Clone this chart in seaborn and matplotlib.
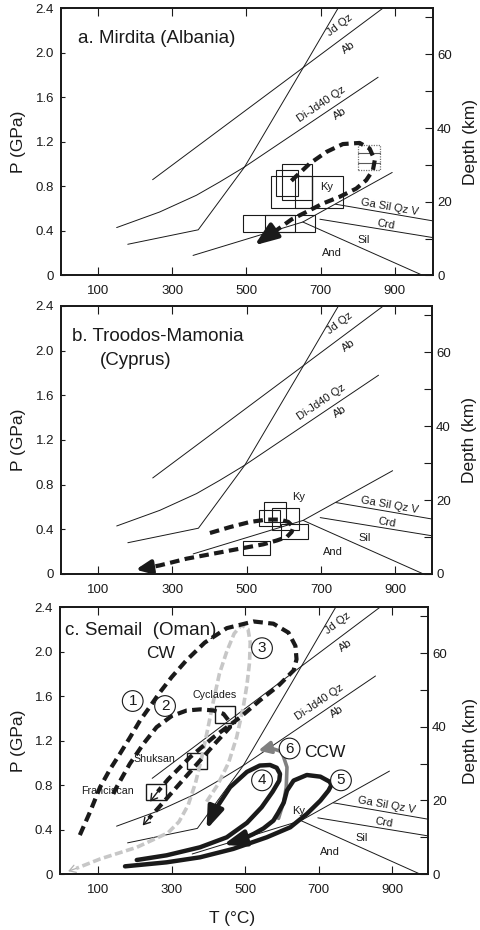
import matplotlib
matplotlib.use("Agg")
import matplotlib.pyplot as plt
import seaborn as sns
from matplotlib.patches import Rectangle

sns.set_theme(style="ticks")
plt.rcParams['font.family'] = ['Liberation Sans', 'DejaVu Sans']
plt.rcParams.update({'text.color': 'k', 'axes.labelcolor': 'k',
                     'xtick.color': 'k', 'ytick.color': 'k', 'axes.edgecolor': 'k'})

# ---- phase boundaries, T (C) / P (GPa), same in all three panels
jd_T = [247, 868]
jd_P = [0.86, 2.40]
di_T = [150, 266, 365, 428, 495, 855]
di_P = [0.43, 0.57, 0.72, 0.84, 0.975, 1.78]
steep_T = [180, 370, 495, 652, 747]
steep_P = [0.28, 0.41, 0.975, 1.86, 2.40]
kyand_T = [356, 652, 893]
kyand_P = [0.18, 0.48, 0.925]
silans_T = [652, 976]
silans_P = [0.48, 0.0]
ga_T = [740, 1003]
ga_P = [0.64, 0.49]
crd_T = [698, 1003]
crd_P = [0.505, 0.34]

# ---- a. Mirdita
a_boxes = [  # Tmin, Tmax, Pmin, Pmax
    (491, 630, 0.391, 0.541), (551, 686, 0.391, 0.541),
    (567, 678, 0.61, 0.894), (581, 639, 0.712, 0.946),
    (597, 678, 0.676, 0.997), (630, 678, 0.61, 0.894),
    (678, 759, 0.61, 0.894)]
a_gray_box = (801, 859, 0.946, 1.17)
a_gray_rows = [1.10, 1.006]
a_path_T = [621, 671, 716, 760, 805, 832, 846, 841, 823, 796, 751, 706, 662, 621, 581, 563]
a_path_P = [0.85, 1.006, 1.11, 1.18, 1.19, 1.14, 1.035, 0.946, 0.856, 0.78, 0.706, 0.646, 0.571, 0.502, 0.406, 0.37]
a_tip = (522, 0.271)

# ---- b. Troodos-Mamonia
b_boxes = [(547, 606, 0.466, 0.645), (534, 590, 0.427, 0.577),
           (567, 641, 0.391, 0.592), (592, 666, 0.317, 0.451),
           (489, 563, 0.167, 0.293)]
b_path_T = [401, 455, 509, 554, 590, 612, 626, 621, 608, 581, 545, 482, 410, 338, 266, 240]
b_path_P = [0.367, 0.42, 0.466, 0.487, 0.487, 0.466, 0.421, 0.376, 0.331, 0.30, 0.266, 0.227, 0.182, 0.137, 0.077, 0.06]
b_tip = (201, 0.039)

# ---- c. Semail
c_boxes = {'Cyclades': (418, 473, 1.354, 1.51),
           'Shuksan': (341, 396, 0.942, 1.092),
           'Franciscan': (230, 285, 0.662, 0.812)}
c1_T = [50, 78, 105, 132, 159, 187, 214, 240, 265, 300, 340, 390, 450, 523, 577, 618, 637, 640, 632,
        590, 540, 487, 414, 350, 290, 262]
c1_P = [0.35, 0.56, 0.78, 0.94, 1.08, 1.23, 1.38, 1.50, 1.62, 1.77, 1.92, 2.08, 2.21, 2.27, 2.25, 2.17, 2.05, 1.93, 1.83,
        1.69, 1.56, 1.41, 1.23, 1.05, 0.85, 0.74]
c1_tip = (241, 0.65)
c2_T = [141, 150, 186, 223, 259, 300, 341, 378, 414, 441, 455, 459, 420, 380, 340, 300, 260, 238]
c2_P = [0.72, 0.78, 0.99, 1.17, 1.32, 1.42, 1.47, 1.48, 1.47, 1.44, 1.38, 1.32, 1.18, 1.03, 0.88, 0.73, 0.58, 0.50]
c2_tip = (221, 0.436)
c3_T = [395, 425, 455, 477, 495, 505, 512, 514, 508, 490, 470, 450, 430, 414, 398, 382, 365, 345, 320, 290, 205, 105, 40]
c3_P = [0.65, 0.80, 1.00, 1.23, 1.50, 1.70, 1.90, 2.08, 2.20, 2.24, 2.16, 2.00, 1.80, 1.56, 1.30, 1.05, 0.82, 0.62, 0.47, 0.37, 0.24, 0.135, 0.05]
c3_tip = (18, 0.025)
c4_T = [205, 286, 377, 450, 505, 545, 575, 593, 595, 586, 568, 540, 505, 459, 423, 405]
c4_P = [0.126, 0.168, 0.24, 0.33, 0.46, 0.60, 0.74, 0.84, 0.90, 0.955, 0.98, 0.975, 0.918, 0.78, 0.60, 0.48]
c4_tip = (395, 0.40)
c5_T = [173, 286, 377, 468, 559, 623, 668, 705, 727, 735, 730, 705, 668, 632, 614, 605, 590, 577, 550, 523, 490]
c5_P = [0.069, 0.105, 0.15, 0.226, 0.33, 0.42, 0.54, 0.66, 0.75, 0.80, 0.83, 0.875, 0.89, 0.84, 0.75, 0.64, 0.55, 0.48, 0.41, 0.36, 0.31]
c5_tip = (440, 0.262)
c6_T = [591, 605, 612, 614, 600, 568]
c6_P = [0.50, 0.65, 0.78, 0.96, 1.10, 1.134]
c6_tip = (536, 1.11)
c_circles = {'1': (194, 1.555), '2': (282, 1.51), '3': (546, 2.03),
             '4': (546, 0.842), '5': (761, 0.842), '6': (621, 1.128)}

p_ticks = [0, 0.4, 0.8, 1.2, 1.6, 2.0, 2.4]
p_labels = ['0', '0.4', '0.8', '1.2', '1.6', '2.0', '2.4']
t_ticks = [100, 300, 500, 700, 900]
depth_ticks = [0, 10, 20, 30, 40, 50, 60, 70]
depth_labels = ['0', '', '20', '', '40', '', '60', '']

DASH = (0, (2.3, 1.3))


def curve(ax, T, P, **kw):
    sns.lineplot(x=T, y=P, sort=False, estimator=None, ax=ax, legend=False, **kw)


def arrow(ax, start, tip, style, color='k', lw=1.0, scale=10):
    ax.annotate('', xy=tip, xytext=start,
                arrowprops=dict(arrowstyle=style, color=color, lw=lw,
                                shrinkA=0, shrinkB=0, mutation_scale=scale))


def frame(ax, xlim, lab_l, lab_r):
    ax.set_xlim(*xlim)
    ax.set_ylim(0, 2.4)
    ax.set_xticks(t_ticks)
    ax.set_yticks(p_ticks)
    ax.set_yticklabels(p_labels)
    ax.tick_params(axis='x', direction='in', length=6, width=0.8, top=True,
                   labelsize=9.5, pad=7)
    ax.tick_params(axis='y', direction='in', length=3, width=0.8, right=False,
                   labelsize=9.5, pad=5)
    for s in ax.spines.values():
        s.set_linewidth(1.3)
    ax.set_ylabel('P (GPa)', fontsize=12.5)
    ax.yaxis.set_label_coords(lab_l, 0.5)
    tw = ax.twinx()
    tw.set_ylim(0, 72.5)
    tw.set_yticks(depth_ticks)
    tw.set_yticklabels(depth_labels)
    tw.tick_params(axis='y', direction='in', length=6, width=0.8, labelsize=9.5, pad=3)
    for s in tw.spines.values():
        s.set_linewidth(1.3)
    tw.set_ylabel('Depth (km)', fontsize=12.5, rotation=90)
    tw.yaxis.set_label_coords(lab_r, 0.5)


def phase(ax):
    for T, P in [(jd_T, jd_P), (di_T, di_P), (steep_T, steep_P), (kyand_T, kyand_P),
                 (silans_T, silans_P), (ga_T, ga_P), (crd_T, crd_P)]:
        curve(ax, T, P, color='k', linewidth=0.7)
    fs = 8
    ax.text(751, 2.25, 'Jd Qz', rotation=37, fontsize=fs, ha='center', va='center')
    ax.text(775, 2.05, 'Ab', rotation=37, fontsize=fs, ha='center', va='center')
    ax.text(702, 1.54, 'Di-Jd40 Qz', rotation=34, fontsize=fs, ha='center', va='center')
    ax.text(751, 1.455, 'Ab', rotation=34, fontsize=fs, ha='center', va='center')
    ax.text(886, 0.615, 'Ga Sil Qz V', rotation=-10, fontsize=fs, ha='center', va='center')
    ax.text(877, 0.46, 'Crd', rotation=-9.5, fontsize=fs, ha='center', va='center')
    ax.text(817, 0.32, 'Sil', fontsize=fs, ha='center', va='center')
    ax.text(731, 0.20, 'And', fontsize=fs, ha='center', va='center')


def boxes(ax, blist, **kw):
    for t0, t1, p0, p1 in blist:
        ax.add_patch(Rectangle((t0, p0), t1 - t0, p1 - p0, fill=False, **kw))


fig = plt.figure(figsize=(4.8, 9.3), dpi=100)

# ---------- a
ax = fig.add_axes([0.1271, 0.7038, 0.775, 0.2874])
phase(ax)
boxes(ax, a_boxes, edgecolor='k', linewidth=0.8)
g0, g1, gp0, gp1 = a_gray_box
ax.add_patch(Rectangle((g0, gp0), g1 - g0, gp1 - gp0, fill=False, edgecolor='0.45',
                       linewidth=0.9, linestyle=(0, (1, 1))))
for yy in a_gray_rows:
    curve(ax, [g0, g1], [yy, yy], color='0.35', linewidth=0.8)
curve(ax, a_path_T, a_path_P, color='k', linewidth=3, linestyle=DASH)
arrow(ax, (a_path_T[-1], a_path_P[-1]), a_tip, '-|>,head_length=1.0,head_width=0.38', lw=3, scale=14)
ax.text(716, 0.795, 'Ky', fontsize=8, ha='center', va='center')
ax.text(45, 2.09, 'a. Mirdita (Albania)', fontsize=13.5, ha='left', va='baseline')
frame(ax, (0, 1003), -0.094, 1.081)

# ---------- b
ax = fig.add_axes([0.1271, 0.3828, 0.7729, 0.2882])
phase(ax)
boxes(ax, b_boxes, edgecolor='k', linewidth=0.8)
curve(ax, b_path_T, b_path_P, color='k', linewidth=3, linestyle=DASH)
arrow(ax, (b_path_T[-1], b_path_P[-1]), b_tip, '-|>,head_length=1.0,head_width=0.45', lw=3, scale=9)
ax.text(639, 0.69, 'Ky', fontsize=8, ha='center', va='center')
ax.text(29, 2.09, 'b. Troodos-Mamonia', fontsize=13.5, ha='left', va='baseline')
ax.text(106, 1.87, '(Cyprus)', fontsize=13.5, ha='left', va='baseline')
frame(ax, (0, 999), -0.094, 1.081)

# ---------- c
ax = fig.add_axes([0.125, 0.0602, 0.7667, 0.2871])
phase(ax)
boxes(ax, list(c_boxes.values()), edgecolor='k', linewidth=1.0)
curve(ax, c3_T, c3_P, color='0.78', linewidth=2.6, linestyle=(0, (2.2, 1.0)))
arrow(ax, (c3_T[-1], c3_P[-1]), c3_tip, '->,head_length=0.5,head_width=0.3', color='0.7', lw=0.9, scale=9)
curve(ax, c1_T, c1_P, color='k', linewidth=3, linestyle=DASH)
arrow(ax, (c1_T[-1], c1_P[-1]), c1_tip, '->,head_length=0.5,head_width=0.3', lw=1.0, scale=9)
curve(ax, c2_T, c2_P, color='k', linewidth=3, linestyle=DASH)
arrow(ax, (c2_T[-1], c2_P[-1]), c2_tip, '->,head_length=0.5,head_width=0.3', lw=1.0, scale=9)
curve(ax, c6_T, c6_P, color='0.5', linewidth=2.6)
arrow(ax, (c6_T[-1], c6_P[-1]), c6_tip, '-|>,head_length=0.8,head_width=0.4', color='0.5', lw=2.6, scale=9)
curve(ax, c4_T, c4_P, color='k', linewidth=3.2)
arrow(ax, (c4_T[-1], c4_P[-1]), c4_tip, '-|>,head_length=1.1,head_width=0.4', lw=3.2, scale=12)
curve(ax, c5_T, c5_P, color='k', linewidth=3.2)
arrow(ax, (c5_T[-1], c5_P[-1]), c5_tip, '-|>,head_length=1.1,head_width=0.4', lw=3.2, scale=12)
for k, (t, p) in c_circles.items():
    ax.text(t, p, k, fontsize=11, ha='center', va='center', zorder=5,
            bbox=dict(boxstyle='circle,pad=0.22', fc='white', ec='k', lw=0.8))
ax.text(416, 1.61, 'Cyclades', fontsize=7.7, ha='center', va='center')
ax.text(252, 1.03, 'Shuksan', fontsize=7.7, ha='center', va='center')
ax.text(126, 0.743, 'Franciscan', fontsize=7.7, ha='center', va='center')
ax.text(270, 1.98, 'CW', fontsize=12.5, ha='center', va='center')
ax.text(718, 1.09, 'CCW', fontsize=12.5, ha='center', va='center')
ax.text(646, 0.566, 'Ky', fontsize=8, ha='center', va='center')
ax.text(9, 2.15, 'c. Semail  (Oman)', fontsize=13.5, ha='left', va='baseline')
frame(ax, (-4, 998), -0.092, 1.095)
ax.set_xlabel('T (\u00b0C)', fontsize=12.5)
ax.xaxis.set_label_coords(0.467, -0.14)

fig.savefig('out.png', dpi=100)
